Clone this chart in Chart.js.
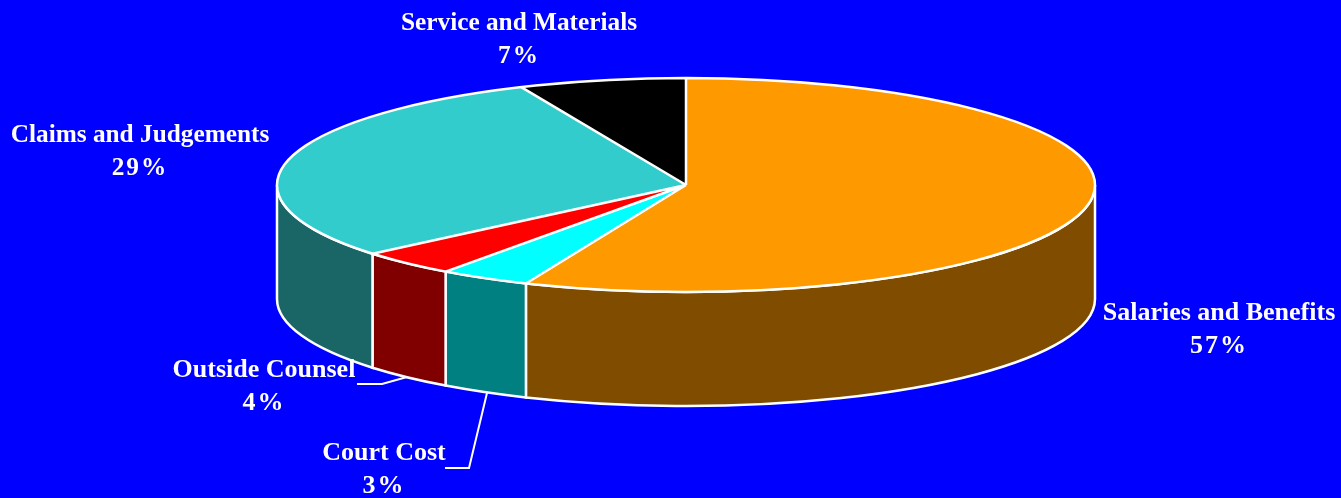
<!DOCTYPE html>
<html>
<head>
<meta charset="utf-8">
<title>Expenditures</title>
<script src="https://cdn.jsdelivr.net/npm/chart.js@4/dist/chart.umd.min.js"></script>
<style>
  html, body { margin: 0; padding: 0; background: #0000ff; overflow: hidden; }
  #wrap { width: 1341px; height: 498px; }
</style>
</head>
<body>
<div id="wrap"><canvas id="pie"></canvas></div>
<script>
// ── Data ─────────────────────────────────────────────────────
const categories  = ['Salaries and Benefits', 'Court Cost', 'Outside Counsel', 'Claims and Judgements', 'Service and Materials'];
const sliceValues = [56.4, 3.6, 3.9, 29.5, 6.6]; // slice sizes
const percentText = ['57%', '3%', '4%', '29%', '7%']; // as printed on the labels
const topColors   = ['#ff9900', '#00ffff', '#ff0000', '#33cccc', '#000000'];
const sideColors  = ['#804d00', '#008080', '#800000', '#1a6666', '#000000'];

// ── Tilted disc geometry (page pixels) ───────────────────────
const DISC = { cx: 686, cy: 185, rx: 409, ry: 107, depth: 114 };
const EDGE = '#ffffff';

// label centre + first baseline + font size, same order as categories
const labelSpots = [
  { x: 1219, y: 320, size: 26 },
  { x: 384,  y: 460, size: 26 },
  { x: 264,  y: 377, size: 26 },
  { x: 140,  y: 142, size: 25.3 },
  { x: 519,  y: 30,  size: 25.3 }
];
const leaders = [
  [[357, 384], [382, 384], [407, 377]],
  [[445, 468], [469, 468], [487, 393]]
];

// Squash the library's round pie into an ellipse and put a wall under it
const tiltPlugin = {
  id: 'tilt',
  beforeDatasetsDraw(chart) {
    const ctx = chart.ctx;
    const arcs = chart.getDatasetMeta(0).data;
    const { cx, cy, rx, ry, depth } = DISC;

    // walls: only the front half (0..PI) shows
    arcs.forEach((arc, i) => {
      const a0 = Math.max(arc.startAngle, 0);
      const a1 = Math.min(arc.endAngle, Math.PI);
      if (a1 <= a0) return;
      ctx.beginPath();
      ctx.ellipse(cx, cy, rx, ry, 0, a0, a1);
      ctx.lineTo(cx + rx * Math.cos(a1), cy + ry * Math.sin(a1) + depth);
      ctx.ellipse(cx, cy + depth, rx, ry, 0, a1, a0, true);
      ctx.closePath();
      ctx.fillStyle = sideColors[i];
      ctx.fill();
      ctx.strokeStyle = EDGE;
      ctx.lineWidth = 2.5;
      ctx.stroke();
    });

    const first = arcs[0];
    ctx.save();
    ctx.translate(cx, cy);
    ctx.scale(rx / first.outerRadius, ry / first.outerRadius);
    ctx.translate(-first.x, -first.y);
  },
  afterDatasetsDraw(chart) {
    const ctx = chart.ctx;
    ctx.restore();
    const arcs = chart.getDatasetMeta(0).data;
    const { cx, cy, rx, ry } = DISC;

    // outline + spokes are stroked unsquashed so the line stays even
    ctx.strokeStyle = EDGE;
    ctx.lineWidth = 2.5;
    ctx.beginPath();
    ctx.ellipse(cx, cy, rx, ry, 0, 0, Math.PI * 2);
    arcs.forEach(arc => {
      ctx.moveTo(cx, cy);
      ctx.lineTo(cx + rx * Math.cos(arc.startAngle), cy + ry * Math.sin(arc.startAngle));
    });
    ctx.stroke();

    // leader lines
    ctx.lineWidth = 2;
    leaders.forEach(pts => {
      ctx.beginPath();
      pts.forEach((p, k) => k ? ctx.lineTo(p[0], p[1]) : ctx.moveTo(p[0], p[1]));
      ctx.stroke();
    });

    // labels
    ctx.fillStyle = '#ffffff';
    ctx.textAlign = 'center';
    ctx.textBaseline = 'alphabetic';
    categories.forEach((name, i) => {
      const s = labelSpots[i];
      ctx.font = 'bold ' + s.size + 'px "Liberation Serif"';
      ctx.letterSpacing = '0px';
      ctx.fillText(name, s.x, s.y);
      ctx.letterSpacing = '2px';
      ctx.fillText(percentText[i], s.x, s.y + 33);
    });
    ctx.letterSpacing = '0px';
  }
};

new Chart(document.getElementById('pie').getContext('2d'), {
  type: 'pie',
  data: {
    labels: categories,
    datasets: [{
      data: sliceValues,
      backgroundColor: topColors,
      borderWidth: 0,
      hoverOffset: 0,
      clip: false
    }]
  },
  options: {
    responsive: true,
    maintainAspectRatio: false,
    animation: false,
    events: [],
    plugins: {
      legend: { display: false },
      tooltip: { enabled: false }
    }
  },
  plugins: [tiltPlugin]
});
</script>
</body>
</html>
